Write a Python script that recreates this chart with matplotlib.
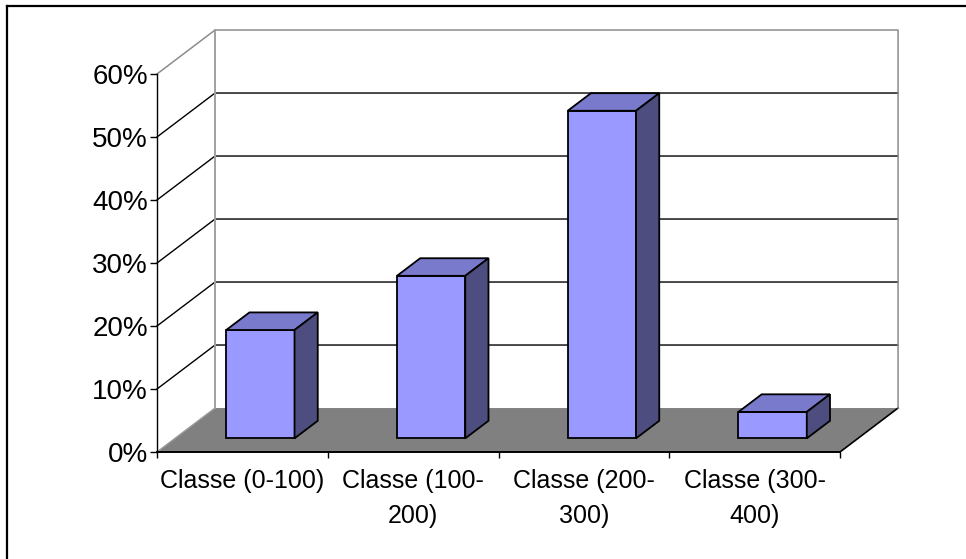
import matplotlib
matplotlib.use("Agg")
import matplotlib.pyplot as plt
from matplotlib.lines import Line2D
from matplotlib.patches import Polygon
from matplotlib.ticker import FixedLocator, PercentFormatter, NullFormatter

plt.rcParams['font.family'] = ['Liberation Sans', 'DejaVu Sans']

# Data
categories = ["Classe (0-100)", "Classe (100-\n200)", "Classe (200-\n300)", "Classe (300-\n400)"]
shares = [0.172, 0.258, 0.520, 0.042]
y_ticks = [0.0, 0.1, 0.2, 0.3, 0.4, 0.5, 0.6]

# Oblique depth of the 3-D box, in category units / value units per full depth
DEPTH_X = 0.34
DEPTH_Y = 0.0698
BAR_D0, BAR_D1 = 0.31, 0.71      # depth slab occupied by the bars
BAR_HALF = 0.2                   # half bar width in category units

FRONT = '#9999FF'
TOP = '#7A7ACC'
SIDE = '#4D4D80'
FLOOR = '#808080'
WALL_EDGE = '#8C8C8C'


def proj(c, v, d):
    """Project (category, value, depth) onto the front plane of the axes."""
    return (c + d * DEPTH_X, v + d * DEPTH_Y)


fig = plt.figure(figsize=(9.66, 5.59), dpi=100)
ax = fig.add_axes([157 / 966, (559 - 452) / 559, 683 / 966, 378 / 559])
ax.set_xlim(0, len(categories))
ax.set_ylim(y_ticks[0], y_ticks[-1])
ax.patch.set_visible(False)

n = len(categories)
vmax = y_ticks[-1]

# Floor
floor = Polygon([proj(0, 0, 0), proj(n, 0, 0), proj(n, 0, 1), proj(0, 0, 1)],
                closed=True, facecolor=FLOOR, edgecolor='none', zorder=1, clip_on=False)
ax.add_patch(floor)
ax.plot(*zip(proj(n, 0, 0), proj(n, 0, 1)), color='black', lw=1.2, zorder=1.2, clip_on=False)
ax.plot(*zip(proj(0, 0, 0), proj(0, 0, 1)), color='#9A9A9A', lw=1.0, zorder=1.2, clip_on=False)

# Gridlines on the side wall and the back wall
for v in y_ticks[1:-1]:
    ax.plot(*zip(proj(0, v, 0), proj(0, v, 1), proj(n, v, 1)),
            color='black', lw=1.0, zorder=1.5, clip_on=False)

# Wall outline
ax.plot(*zip(proj(0, vmax, 0), proj(0, vmax, 1), proj(n, vmax, 1), proj(n, 0, 1)),
        color=WALL_EDGE, lw=1.1, zorder=1.5, clip_on=False)
ax.plot(*zip(proj(0, 0, 1), proj(0, vmax, 1)),
        color='#A0A0A0', lw=1.4, zorder=1.5, clip_on=False)

# Bars
for i, val in enumerate(shares):
    x0, x1 = i + 0.5 - BAR_HALF, i + 0.5 + BAR_HALF
    faces = [
        ([proj(x0, 0, BAR_D0), proj(x1, 0, BAR_D0), proj(x1, val, BAR_D0), proj(x0, val, BAR_D0)], FRONT),
        ([proj(x0, val, BAR_D0), proj(x1, val, BAR_D0), proj(x1, val, BAR_D1), proj(x0, val, BAR_D1)], TOP),
        ([proj(x1, 0, BAR_D0), proj(x1, 0, BAR_D1), proj(x1, val, BAR_D1), proj(x1, val, BAR_D0)], SIDE),
    ]
    for pts, col in faces:
        ax.add_patch(Polygon(pts, closed=True, facecolor=col, edgecolor='black',
                             lw=1.3, joinstyle='miter', zorder=3, clip_on=False))

# Axes styling
for side in ('top', 'right'):
    ax.spines[side].set_visible(False)
ax.spines['left'].set_color('black')
ax.spines['left'].set_linewidth(1.0)
ax.spines['bottom'].set_color('black')
ax.spines['bottom'].set_linewidth(1.4)
ax.spines['bottom'].set_zorder(2)

ax.set_yticks(y_ticks)
ax.yaxis.set_major_formatter(PercentFormatter(1.0, decimals=0))
ax.tick_params(axis='y', direction='out', length=5, width=1.0, labelsize=20, pad=1.5, colors='black')

ax.xaxis.set_major_locator(FixedLocator(range(n + 1)))
ax.xaxis.set_major_formatter(NullFormatter())
ax.xaxis.set_minor_locator(FixedLocator([i + 0.5 for i in range(n)]))
ax.set_xticklabels(categories, minor=True, linespacing=1.62)
ax.tick_params(axis='x', which='major', direction='out', length=4.5, width=1.0)
ax.tick_params(axis='x', which='minor', length=0, labelsize=18, pad=12)

# Chart frame (top and left edges)
fig.add_artist(Line2D([7 / 966, 7 / 966], [0, 1 - 6 / 559], transform=fig.transFigure,
                      color='black', lw=1.6))
fig.add_artist(Line2D([7 / 966, 1], [1 - 6 / 559, 1 - 6 / 559], transform=fig.transFigure,
                      color='black', lw=1.6))

fig.savefig('out.png', dpi=100)
